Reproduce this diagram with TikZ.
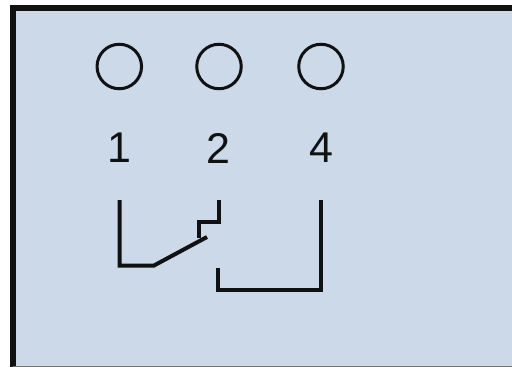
\documentclass[tikz,border=0pt]{standalone}
\usepackage{fontspec}
\setmainfont{Liberation Sans}
\definecolor{panel}{HTML}{CCD9E8}
\definecolor{ink}{HTML}{111111}
\tikzset{
  term/.style={circle,draw=ink,line width=3pt,minimum size=44.5pt,inner sep=0pt},
  lab/.style={font=\fontsize{43pt}{43pt}\selectfont,text=ink,inner sep=0pt},
  wire/.style={draw=ink,line width=4pt,line join=miter,line cap=butt}
}
\begin{document}
\begin{tikzpicture}[x=1pt,y=-1pt]
\useasboundingbox (0,0) rectangle (512,367);
\fill[white] (0,0) rectangle (512,367);
\fill[panel] (13,8) rectangle (512,367);
\draw[ink,line width=5.5pt] (513,8) -- (13,8) -- (13,368);
\draw[black!55,line width=1.5pt] (13,366.6) -- (512,366.6);
\node[term] (c1) at (119.3,66.5) {};
\node[term] (c2) at (219,66.5) {};
\node[term] (c4) at (321,66.5) {};
\node[lab] (l1) at (119,148) {1};
\node[lab] (l2) at (218.5,148) {2};
\node[lab] (l4) at (321,148) {4};
\coordinate (a) at (119.5,200);
\coordinate (b) at (119.5,265.5);
\coordinate (d) at (154,265.5);
\coordinate (e) at (207,237);
\coordinate (f) at (199,238);
\coordinate (g) at (199,222);
\coordinate (h) at (219,222);
\coordinate (i) at (219,200);
\coordinate (j) at (218,268);
\coordinate (k) at (218,290);
\coordinate (m) at (320.5,290);
\coordinate (n) at (320.5,200);
\draw[wire] (a) -- (b) -- (d) -- (e);
\draw[wire] (f) -- (g) -- (h) -- (i);
\draw[wire] (j) -- (k) -- (m) -- (n);
\end{tikzpicture}
\end{document}
